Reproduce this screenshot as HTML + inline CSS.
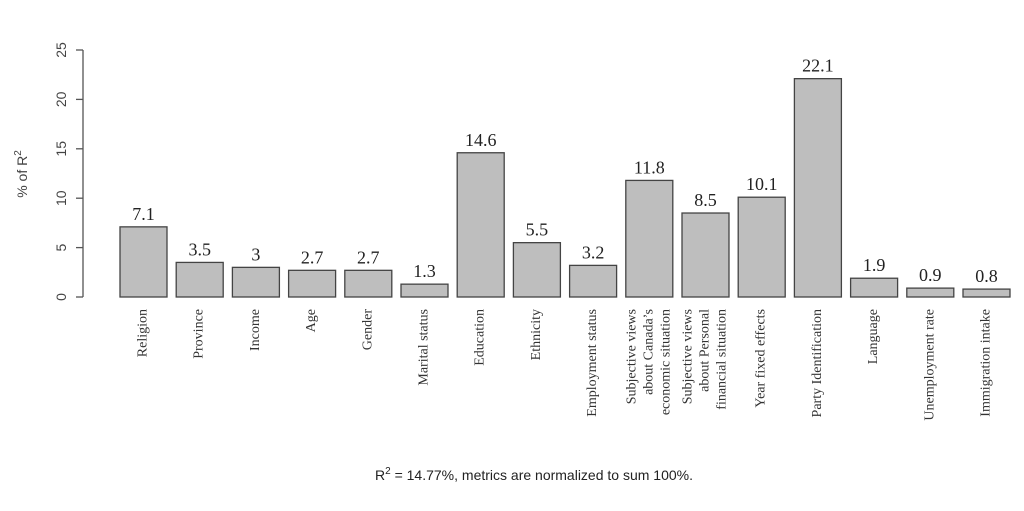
<!DOCTYPE html>
<html><head><meta charset="utf-8"><style>
html,body{margin:0;padding:0;background:#fff;width:1024px;height:511px;overflow:hidden}
svg text{fill:#222}
</style></head><body>
<svg id="chart" width="1024" height="511" xmlns="http://www.w3.org/2000/svg">
<g id="yaxis"></g>
<g id="bars"></g>
<g id="xlabels"></g>
<text transform="translate(27,174) rotate(-90)" text-anchor="middle" font-family="Liberation Sans, sans-serif" font-size="14" style="fill:#444">% of R<tspan dy="-6" font-size="10">2</tspan></text>
<text x="375" y="480" font-family="Liberation Sans, sans-serif" font-size="14">R<tspan dy="-6" font-size="10">2</tspan><tspan dy="6"> = 14.77%, metrics are normalized to sum 100%.</tspan></text>
</svg>
<script>
const categories = ["Religion","Province","Income","Age","Gender","Marital status","Education","Ethnicity","Employment status","Subjective views|about Canada\u2019s|economic situation","Subjective views|about Personal|financial situation","Year fixed effects","Party Identification","Language","Unemployment rate","Immigration intake"];
const values = [7.1,3.5,3,2.7,2.7,1.3,14.6,5.5,3.2,11.8,8.5,10.1,22.1,1.9,0.9,0.8];
const valueLabels = ["7.1","3.5","3","2.7","2.7","1.3","14.6","5.5","3.2","11.8","8.5","10.1","22.1","1.9","0.9","0.8"];
const yTicks = [0,5,10,15,20,25];

const NS="http://www.w3.org/2000/svg";
const y0=297, y25=50, yMax=25;
function yScale(v){return y0-(v/yMax)*(y0-y25);}
const step=56.2, bw=47, left0=120;
function xScale(i){return left0+i*step;}
function mk(tag,attrs,parent){const e=document.createElementNS(NS,tag);for(const k in attrs)e.setAttribute(k,attrs[k]);parent.appendChild(e);return e;}

const ya=document.getElementById('yaxis');
const axisLine=mk('line',{x1:83,x2:83,y1:yScale(0),y2:yScale(yTicks[yTicks.length-1]),stroke:'#555','stroke-width':1.3},ya);


yTicks.forEach(t=>{
  const y=yScale(t);
  const tk=mk('line',{x1:76,x2:83,y1:y,y2:y,stroke:'#555','stroke-width':1.3},ya);
  
  
  const tl=mk('text',{transform:`translate(66,${y}) rotate(-90)`,'text-anchor':'middle','font-family':'Liberation Sans, sans-serif','font-size':14,style:'fill:#444'},ya);
  tl.textContent=t;
  
  
});

const bg=document.getElementById('bars');
const xg=document.getElementById('xlabels');
values.forEach((v,i)=>{
  const x=xScale(i), y=yScale(v);
  const r=mk('rect',{x:x,y:y,width:bw,height:yScale(0)-y,fill:'#bebebe',stroke:'#444','stroke-width':1.3},bg);
  
  
  const vl=mk('text',{x:x+bw/2,y:y-7,'text-anchor':'middle','font-family':'Liberation Serif, serif','font-size':18},bg);
  vl.textContent=valueLabels[i];
  
  
  const lines=categories[i].split('|');
  const cx=x+bw/2;
  const lh=17;
  const off=-(lines.length-1)*lh/2;
  lines.forEach((ln,j)=>{
    const t=mk('text',{transform:`translate(${cx+off+j*lh+3},309) rotate(-90)`,'text-anchor':'end','font-family':'Liberation Serif, serif','font-size':14,style:'fill:#333'},xg);
    t.textContent=ln;
    
    
  });
});
</script>
</body></html>
